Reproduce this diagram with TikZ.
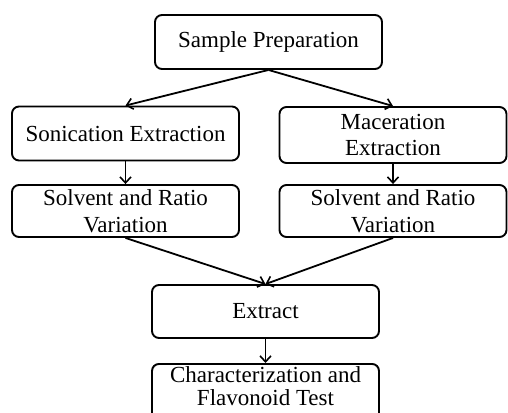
\documentclass[tikz,border=0pt]{standalone}
\usepackage{fontspec}
\setmainfont{Liberation Serif}
\usetikzlibrary{arrows.meta}
\begin{document}
\begin{tikzpicture}[x=1pt,y=-1pt,
  box/.style={draw,line width=1.9pt,rounded corners=7pt,minimum width=227pt,minimum height=54pt,
    inner sep=0pt,align=center,font=\fontsize{23}{26.5}\selectfont},
  arr/.style={line width=1.8pt,-{Straight Barb[length=6pt,width=11pt,line width=1.6pt]}}]
\clip (0,0) rectangle (508,412);
\fill[white] (0,0) rectangle (508,412);
\node[box] (sp) at (268.5,42) {Sample Preparation};
\node[box] (son) at (125.5,133.5) {Sonication Extraction};
\node[box,minimum height=56pt] (mac) at (393,135) {Maceration\\Extraction};
\node[box,minimum height=52pt] (sol1) at (125.5,211) {Solvent and Ratio\\Variation};
\node[box,minimum height=52pt] (sol2) at (393,211) {Solvent and Ratio\\Variation};
\node[box,minimum height=53pt] (ext) at (265.5,311.5) {Extract};
\node[box,anchor=north,minimum height=0pt,inner ysep=3pt,text depth=14pt,font=\fontsize{23}{23}\selectfont] (char) at (265.5,363) {Characterization and\\Flavonoid Test};
\draw[arr] (sp.south) -- (son.north);
\draw[arr] (sp.south) -- (mac.north);
\draw[arr] (son.south) -- (sol1.north);
\draw[arr] (mac.south) -- (sol2.north);
\draw[arr] (sol1.south) -- (ext.north);
\draw[arr] (sol2.south) -- (ext.north);
\draw[arr] (ext.south) -- (char.north);
\end{tikzpicture}
\end{document}
